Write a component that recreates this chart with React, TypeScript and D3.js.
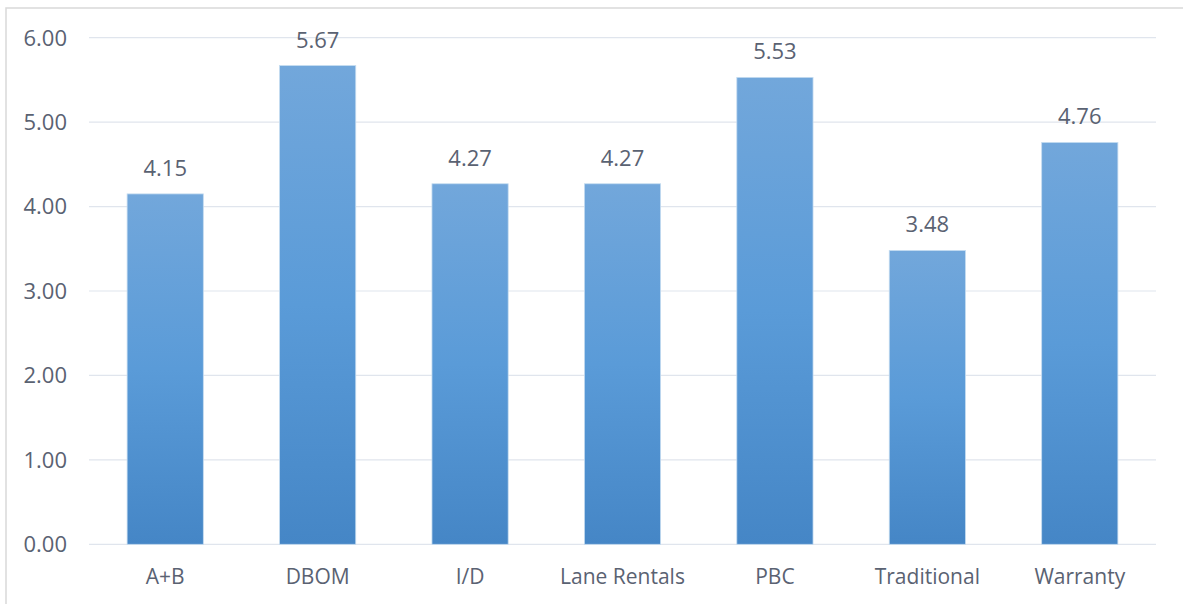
import React from "react";
import * as d3 from "d3";

const categories = ["A+B", "DBOM", "I/D", "Lane Rentals", "PBC", "Traditional", "Warranty"];
const values = [4.15, 5.67, 4.27, 4.27, 5.53, 3.48, 4.76];
const yTicks = [0, 1, 2, 3, 4, 5, 6];

const W = 1183;
const H = 604;
const plot = { left: 89, right: 1156, top: 37.7, bottom: 544.3 };
const FONT = "'Open Sans', 'Liberation Sans', sans-serif";
const TEXT = "#5a6272";

export default function App() {
  const x = d3
    .scaleBand<string>()
    .domain(categories)
    .range([plot.left, plot.right])
    .paddingInner(0.5)
    .paddingOuter(0.25);
  const y = d3.scaleLinear().domain([0, 6]).range([plot.bottom, plot.top]);
  const fmt = d3.format(".2f");

  return (
    <div style={{ position: "absolute", left: 0, top: 0 }}>
      <svg width={W} height={H} style={{ display: "block", background: "#fff" }}>
        <defs>
          <linearGradient id="barFill" x1="0" y1="0" x2="0" y2="1">
            <stop offset="0%" stopColor="#72a7db" />
            <stop offset="50%" stopColor="#5a9bd8" />
            <stop offset="100%" stopColor="#4586c6" />
          </linearGradient>
        </defs>
        {/* chart frame */}
        <rect x={6} y={8} width={1400} height={800} fill="none" stroke="#d9d9d9" strokeWidth={1.5} />
        {/* gridlines */}
        {yTicks.map((t) => (
          <line
            key={t}
            x1={plot.left}
            x2={plot.right}
            y1={y(t)}
            y2={y(t)}
            stroke="#e0e5ed"
            strokeWidth={1.2}
          />
        ))}
        {/* y tick labels */}
        {yTicks.map((t) => (
          <text
            key={"l" + t}
            x={67}
            y={y(t)}
            dy="0.36em"
            textAnchor="end"
            fontFamily={FONT}
            fontSize={22}
            fill={TEXT}
          >
            {fmt(t)}
          </text>
        ))}
        {/* bars */}
        {categories.map((c, i) => (
          <rect
            key={c}
            x={x(c)}
            y={y(values[i])}
            width={x.bandwidth()}
            height={y(0) - y(values[i])}
            fill="url(#barFill)"
            stroke="#c5dcf0"
            strokeWidth={0.8}
          />
        ))}
        {/* value labels */}
        {categories.map((c, i) => (
          <text
            key={"v" + c}
            x={(x(c) as number) + x.bandwidth() / 2}
            y={y(values[i]) - 18}
            textAnchor="middle"
            fontFamily={FONT}
            fontSize={22}
            fill={TEXT}
          >
            {fmt(values[i])}
          </text>
        ))}
        {/* category labels */}
        {categories.map((c) => (
          <text
            key={"c" + c}
            x={(x(c) as number) + x.bandwidth() / 2}
            y={plot.bottom + 40}
            textAnchor="middle"
            fontFamily={FONT}
            fontSize={21}
            fill={TEXT}
          >
            {c}
          </text>
        ))}
      </svg>
    </div>
  );
}
